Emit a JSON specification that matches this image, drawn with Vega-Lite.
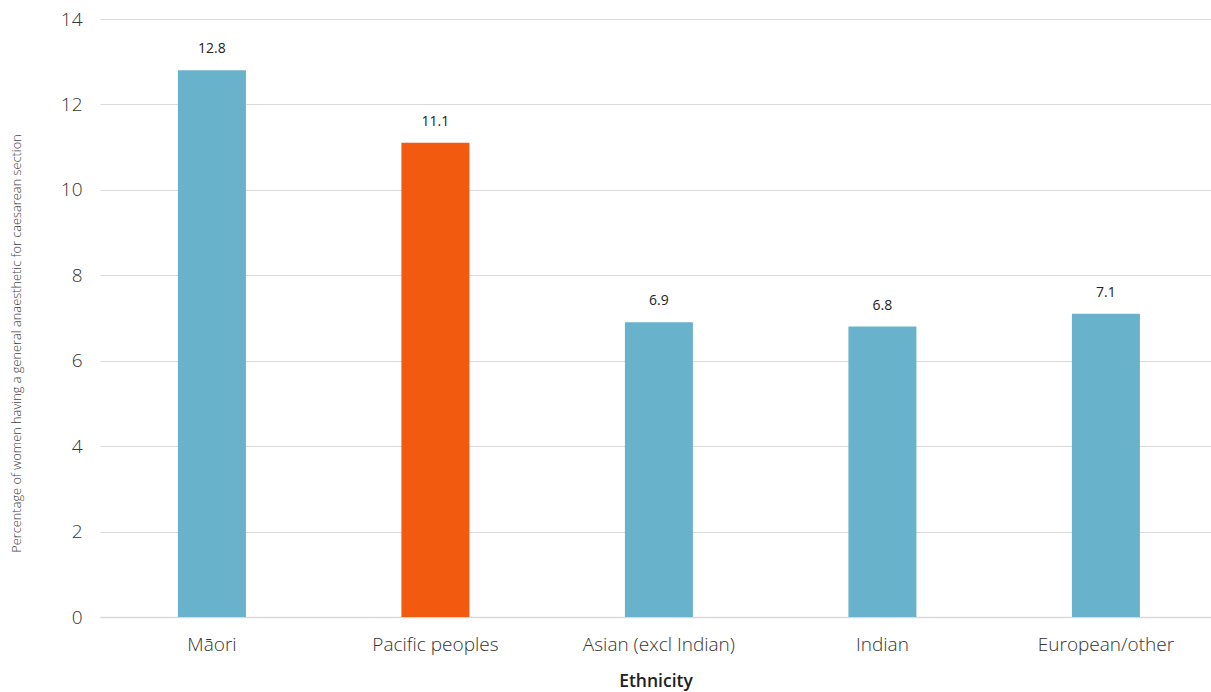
{
  "$schema": "https://vega.github.io/schema/vega-lite/v6.json",
  "autosize": {"type": "none"},
  "width": 1111,
  "height": 598,
  "padding": {"left": 100, "top": 19, "right": 0, "bottom": 75},
  "background": "white",
  "config": {
    "view": {"stroke": null},
    "font": "Open Sans"
  },
  "data": {
    "values": [
      {"ethnicity": "Māori", "value": 12.8, "group": "other"},
      {"ethnicity": "Pacific peoples", "value": 11.1, "group": "pacific"},
      {"ethnicity": "Asian (excl Indian)", "value": 6.9, "group": "other"},
      {"ethnicity": "Indian", "value": 6.8, "group": "other"},
      {"ethnicity": "European/other", "value": 7.1, "group": "other"}
    ]
  },
  "encoding": {
    "x": {
      "field": "ethnicity",
      "type": "nominal",
      "sort": null,
      "scale": {"paddingInner": 0.6957, "paddingOuter": 0.3333, "align": 0.523},
      "axis": {
        "title": "Ethnicity",
        "titleFont": "Open Sans",
        "titleFontSize": 17.5,
        "titleFontWeight": 600,
        "titleColor": "#222222",
        "titlePadding": 18,
        "labelFont": "Open Sans",
        "labelFontSize": 19,
        "labelFontWeight": 300,
        "labelColor": "#333333",
        "labelPadding": 18,
        "labelAngle": 0,
        "ticks": false,
        "domain": true,
        "domainColor": "#d9d9d9",
        "domainWidth": 1.5
      }
    },
    "y": {
      "field": "value",
      "type": "quantitative",
      "scale": {"domain": [0, 14]},
      "axis": {
        "title": "Percentage of women having a general anaesthetic for caesarean section",
        "titleFont": "Open Sans",
        "titleFontSize": 12.8,
        "titleFontWeight": 300,
        "titleColor": "#444444",
        "titlePadding": 37,
        "titleY": 324,
        "values": [0, 2, 4, 6, 8, 10, 12, 14],
        "labelFont": "Open Sans",
        "labelFontSize": 19,
        "labelFontWeight": 300,
        "labelColor": "#333333",
        "labelPadding": 18,
        "ticks": false,
        "domain": false,
        "grid": true,
        "gridColor": "#d9d9d9",
        "gridWidth": 1.2
      }
    }
  },
  "layer": [
    {
      "mark": {"type": "bar"},
      "encoding": {
        "color": {
          "field": "group",
          "type": "nominal",
          "scale": {"domain": ["other", "pacific"], "range": ["#68B3CB", "#F15A0F"]},
          "legend": null
        }
      }
    },
    {
      "mark": {"type": "text", "dy": -21, "fontSize": 14, "font": "Open Sans", "color": "#222222"},
      "encoding": {
        "text": {"field": "value", "type": "quantitative", "format": ".1f"}
      }
    }
  ]
}
